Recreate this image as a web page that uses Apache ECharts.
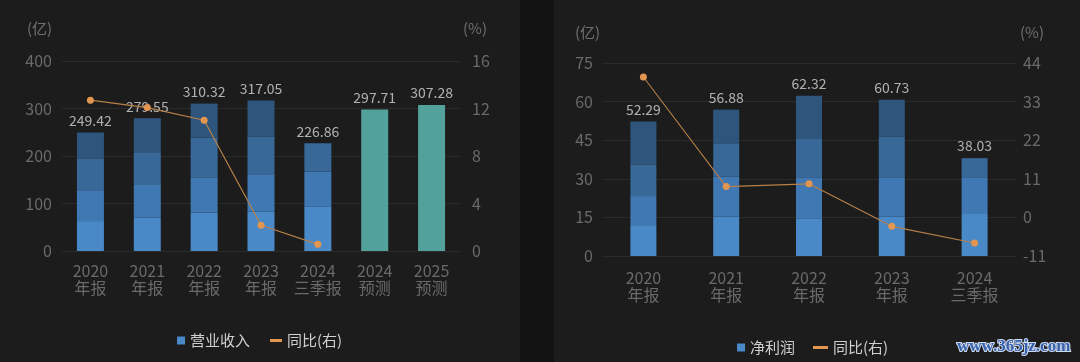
<!DOCTYPE html>
<html><head><meta charset="utf-8">
<script src="https://cdn.jsdelivr.net/npm/echarts@6/dist/echarts.min.js"></script>
<style>html,body{margin:0;padding:0;background:#131313}#c{width:1080px;height:362px}</style>
</head><body><div id="c"></div>
<script>
// ---- Left panel: 营业收入 (亿) ----
const revCats = ['2020\n年报', '2021\n年报', '2022\n年报', '2023\n年报', '2024\n三季报', '2024\n预测', '2025\n预测'];
const revQ1 = [63, 70, 80.6, 82.8, 93, '-', '-'];
const revQ2 = [65, 69, 74.4, 78.6, 74, '-', '-'];
const revQ3 = [67, 69, 84, 79.2, 59.86, '-', '-'];
const revQ4 = [54.42, 71.55, 71.32, 76.45, '-', '-', '-'];
const revForecast = ['-', '-', '-', '-', '-', 297.71, 307.28];
const revTotal = [249.42, 279.55, 310.32, 317.05, 226.86, 297.71, 307.28];
const revYoY = [12.7, 12.08, 11.01, 2.17, 0.56, '-', '-'];
const revLeftTicks = [0, 400, 100];
const revRightTicks = [0, 16, 4];

// ---- Right panel: 净利润 (亿) ----
const npCats = ['2020\n年报', '2021\n年报', '2022\n年报', '2023\n年报', '2024\n三季报'];
const npQ1 = [12.0, 15.3, 14.7, 15.3, 16.3];
const npQ2 = [11.3, 15.5, 15.9, 15.3, 14.3];
const npQ3 = [12.3, 13.0, 14.9, 15.8, 7.43];
const npQ4 = [16.69, 13.08, 16.82, 14.33, '-'];
const npTotal = [52.29, 56.88, 62.32, 60.73, 38.03];
const npYoY = [40.0, 8.78, 9.56, -2.55, -7.3];
const npLeftTicks = [0, 75, 15];
const npRightTicks = [-11, 44, 11];

const FONT = '"Noto Sans CJK SC", "Noto Sans", sans-serif';
const qColors = ['#4a89c8', '#3f78b2', '#376898', '#2e567c'];
const teal = '#52a19b';
const orange = '#b98048';
const dotColor = '#e39650';
const axisTxt = '#6a6a6a';
const gridLine = '#2a2a2a';

function yAxis(gi, ticks, pos, margin) {
  return {
    type: 'value', gridIndex: gi, position: pos,
    min: ticks[0], max: ticks[1], interval: ticks[2],
    axisLine: { show: false }, axisTick: { show: false },
    axisLabel: { color: axisTxt, fontSize: 16, fontFamily: FONT, margin: margin },
    splitLine: { show: pos === 'left', lineStyle: { color: gridLine, width: 1 } }
  };
}
function xAxis(gi, cats, margin) {
  return {
    type: 'category', gridIndex: gi, data: cats,
    axisLine: { show: false }, axisTick: { show: false },
    axisLabel: { color: axisTxt, fontSize: 16, fontFamily: FONT, margin: margin, lineHeight: 17, interval: 0 }
  };
}
function qBar(name, data, xi, yi, color, bw) {
  return { name: name, type: 'bar', stack: 's' + xi, xAxisIndex: xi, yAxisIndex: yi,
    data: data, barWidth: bw, itemStyle: { color: color }, silent: true };
}
function totalLabels(data, xi, yi) {
  return { type: 'scatter', xAxisIndex: xi, yAxisIndex: yi, data: data, symbolSize: 0, silent: true, z: 3,
    label: { show: true, position: 'top', distance: 5, color: '#d6d6d6', fontSize: 14, fontFamily: FONT } };
}
function yoyLine(name, data, xi, yi, w) {
  return { name: name, type: 'line', xAxisIndex: xi, yAxisIndex: yi, data: data, z: 5,
    symbol: 'circle', symbolSize: 7, showSymbol: true,
    lineStyle: { color: orange, width: w }, itemStyle: { color: dotColor } };
}

const legendText = { color: '#cfcfcf', fontSize: 15, fontFamily: FONT };

const chart = echarts.init(document.getElementById('c'), null, { renderer: 'canvas' });
chart.setOption({
  backgroundColor: '#131313',
  animation: false,
  graphic: [
    { type: 'rect', shape: { x: 0, y: 0, width: 520, height: 362 }, style: { fill: '#1c1c1c' }, z: -10, silent: true },
    { type: 'rect', shape: { x: 554, y: 0, width: 526, height: 362 }, style: { fill: '#1c1c1c' }, z: -10, silent: true },
    { type: 'text', left: 27, top: 21, style: { text: '(亿)', fill: '#707070', font: '15px ' + FONT } },
    { type: 'text', left: 463, top: 21, style: { text: '(%)', fill: '#707070', font: '15px ' + FONT } },
    { type: 'text', left: 575, top: 25, style: { text: '(亿)', fill: '#707070', font: '15px ' + FONT } },
    { type: 'text', left: 1020, top: 25, style: { text: '(%)', fill: '#707070', font: '15px ' + FONT } },
    { type: 'text', left: 956, top: 337, style: { text: 'www.365jz.com', fill: '#3862aa', stroke: '#cfdcf2', lineWidth: 2, font: 'bold 17px "Liberation Serif", serif' } }
  ],
  grid: [
    { left: 62, top: 61, width: 398, height: 190 },
    { left: 602, top: 63, width: 414, height: 193 }
  ],
  xAxis: [xAxis(0, revCats, 11), xAxis(1, npCats, 13)],
  yAxis: [
    yAxis(0, revLeftTicks, 'left', 10),
    yAxis(0, revRightTicks, 'right', 12),
    yAxis(1, npLeftTicks, 'left', 9),
    yAxis(1, npRightTicks, 'right', 7)
  ],
  legend: [
    { left: 172, top: 328, itemWidth: 8, itemHeight: 8, icon: 'rect', data: ['营业收入'], textStyle: legendText },
    { left: 265, top: 328, itemWidth: 12, itemHeight: 3, icon: 'rect', data: ['同比(右)'], textStyle: legendText },
    { left: 732, top: 335, itemWidth: 8, itemHeight: 8, icon: 'rect', data: ['净利润'], textStyle: legendText },
    { left: 808, top: 335, itemWidth: 15, itemHeight: 3, icon: 'rect', data: [{ name: '同比(右) ' }], textStyle: legendText, formatter: function (n) { return n.trim(); } }
  ],
  series: [
    qBar('营业收入', revQ1, 0, 0, qColors[0], 27),
    qBar('rq2', revQ2, 0, 0, qColors[1], 27),
    qBar('rq3', revQ3, 0, 0, qColors[2], 27),
    qBar('rq4', revQ4, 0, 0, qColors[3], 27),
    qBar('rf', revForecast, 0, 0, teal, 27),
    totalLabels(revTotal, 0, 0),
    yoyLine('同比(右)', revYoY, 0, 1, 1.2),
    qBar('净利润', npQ1, 1, 2, qColors[0], 26),
    qBar('nq2', npQ2, 1, 2, qColors[1], 26),
    qBar('nq3', npQ3, 1, 2, qColors[2], 26),
    qBar('nq4', npQ4, 1, 2, qColors[3], 26),
    totalLabels(npTotal, 1, 2),
    yoyLine('同比(右) ', npYoY, 1, 3, 1.1)
  ]
});
</script></body></html>
